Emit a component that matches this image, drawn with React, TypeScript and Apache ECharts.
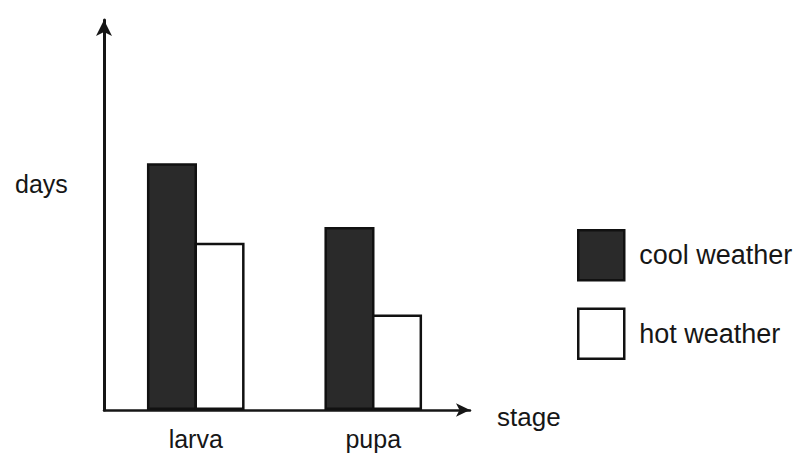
import React, { useEffect, useRef } from "react";
import * as echarts from "echarts";

const stages = ["larva", "pupa"];
const coolWeather = [6.2, 4.6];
const hotWeather = [4.2, 2.4];
const seriesNames = ["cool weather", "hot weather"];
const yAxisTitle = "days";
const xAxisTitle = "stage";

const FONT = "'Liberation Sans', Arial, Helvetica, sans-serif";
const INK = "#161616";

export default function App() {
  const ref = useRef<HTMLDivElement>(null);
  useEffect(() => {
    if (!ref.current) return;
    const chart = echarts.init(ref.current, undefined, { renderer: "svg" });
    chart.setOption({
      animation: false,
      backgroundColor: "#ffffff",
      textStyle: { fontFamily: FONT, color: INK },
      grid: [
        { left: 104, right: 331, top: 20, bottom: 47 },
        { left: 107, right: 339, top: 12, bottom: 47 },
      ],
      legend: {
        orient: "vertical",
        left: 577,
        top: 229,
        padding: 0,
        itemWidth: 46,
        itemHeight: 50,
        itemGap: 26,
        icon: "rect",
        textStyle: { fontSize: 27, fontFamily: FONT, color: INK, padding: [0, 0, 0, 10] },
        data: [
          { name: seriesNames[0], itemStyle: { color: "#2a2a2a", borderColor: "#111", borderWidth: 2.5 } },
          { name: seriesNames[1], itemStyle: { color: "#ffffff", borderColor: "#111", borderWidth: 2.5 } },
        ],
      },
      graphic: [
        {
          type: "text",
          x: 15,
          y: 184,
          style: {
            text: yAxisTitle,
            fontSize: 25,
            fontFamily: FONT,
            fill: INK,
            verticalAlign: "middle",
          },
        },
      ],
      xAxis: [
        {
          type: "category",
          gridIndex: 1,
          data: stages,
          axisLine: { show: false },
          axisTick: { show: false },
          axisLabel: { fontSize: 25, color: INK, fontFamily: FONT, margin: 16 },
        },
        {
          type: "value",
          gridIndex: 0,
          min: 0,
          max: 1,
          name: xAxisTitle,
          nameLocation: "end",
          nameGap: 27,
          nameTextStyle: {
            fontSize: 26,
            color: INK,
            fontFamily: FONT,
            verticalAlign: "top",
            lineHeight: 14,
          },
          splitLine: { show: false },
          axisTick: { show: false },
          axisLabel: { show: false },
          axisLine: {
            show: true,
            onZero: false,
            symbol: ["none", "arrow"],
            symbolSize: [10, 14],
            lineStyle: { color: INK, width: 2.5 },
          },
        },
      ],
      yAxis: [
        {
          type: "value",
          gridIndex: 1,
          min: 0,
          max: 10,
          axisLine: { show: false },
          axisTick: { show: false },
          axisLabel: { show: false },
          splitLine: { show: false },
        },
        {
          type: "value",
          gridIndex: 0,
          min: 0,
          max: 1,
          splitLine: { show: false },
          axisTick: { show: false },
          axisLabel: { show: false },
          axisLine: {
            show: true,
            onZero: false,
            symbol: ["none", "arrow"],
            symbolSize: [12, 16],
            lineStyle: { color: INK, width: 3 },
          },
        },
      ],
      series: [
        {
          name: seriesNames[0],
          type: "bar",
          xAxisIndex: 0,
          yAxisIndex: 0,
          data: coolWeather,
          barCategoryGap: "45%",
          barGap: "-5%",
          itemStyle: { color: "#2a2a2a", borderColor: "#111", borderWidth: 2.5 },
        },
        {
          name: seriesNames[1],
          type: "bar",
          xAxisIndex: 0,
          yAxisIndex: 0,
          data: hotWeather,
          barCategoryGap: "45%",
          barGap: "-5%",
          itemStyle: { color: "#ffffff", borderColor: "#111", borderWidth: 2.5 },
        },
      ],
    });
    return () => chart.dispose();
  }, []);
  return (
    <div
      ref={ref}
      style={{ position: "fixed", left: 0, top: 0, width: 801, height: 457, background: "#fff" }}
    />
  );
}
